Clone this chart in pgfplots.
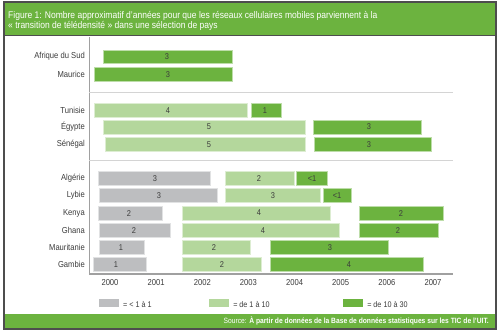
\documentclass[border=0pt]{standalone}
\usepackage{fontspec}
\setmainfont{Liberation Sans}[FakeStretch=0.88]
\usepackage{pgfplots}
\pgfplotsset{compat=1.18}
\definecolor{dg}{HTML}{6CB33F}
\definecolor{lg}{HTML}{B4D79C}
\definecolor{gr}{HTML}{BDBEC0}
\definecolor{band}{HTML}{6CB33F}
\definecolor{framec}{HTML}{4D4D4D}
\definecolor{sepc}{HTML}{D4D4D4}
\definecolor{axisc}{HTML}{A0A0A0}
\definecolor{txt}{HTML}{3C3C3C}
\pgfplotsset{gbar/.style={fill=#1, draw=#1!45!white, line width=0.4pt, forget plot, mark=none}}
\tikzset{lbl/.style={font=\fontsize{7.2}{8}\selectfont, text=txt, inner sep=0pt}}
\begin{document}
\begin{tikzpicture}[x=0.03cm,y=-0.03cm]
\fill[white] (0,0) rectangle (500,333);
\fill[band] (3,2) rectangle (497,35);
\fill[band] (3,314) rectangle (497,328);
\draw[framec, line width=0.05cm] (4,2) rectangle (496,329);
\draw[framec, line width=0.03cm] (4,35) -- (496,35);
\node[anchor=base west, text=white, font=\fontsize{8.25}{9}\selectfont, inner sep=0pt] at (8,18) {Figure 1: Nombre approximatif d'années pour que les réseaux cellulaires mobiles parviennent à la};
\node[anchor=base west, text=white, font=\fontsize{8.25}{9}\selectfont, inner sep=0pt] at (8,28.5) {« transition de télédensité » dans une sélection de pays};
\node[anchor=base east, text=white, font=\fontsize{6.5}{7}\selectfont, inner sep=0pt] at (489,323.5) {Source: \textbf{À partir de données de la Base de données statistiques sur les TIC de l'UIT.}};
\begin{axis}[
  at={(2.67cm,-8.22cm)}, anchor=south west,
  scale only axis, width=10.92cm, height=7.11cm,
  xmin=-0.455, xmax=7.434, ymin=-274, ymax=-36,
  axis x line*=bottom, axis y line*=left,
  x axis line style={axisc, line width=1.1pt, -},
  y axis line style={axisc, line width=0.8pt, -},
  xtick={0,1,2,3,4,5,6,7},
  xticklabels={2000,2001,2002,2003,2004,2005,2006,2007},
  ytick={-55.8,-73.7,-109.5,-126.2,-144,-177.8,-195.3,-212.8,-230.2,-247.2,-264.2},
  yticklabels={Afrique du Sud,Maurice,Tunisie,Égypte,Sénégal,Algérie,Lybie,Kenya,Ghana,Mauritanie,Gambie},
  major tick length=0pt, tick style={draw=none},
  xticklabel style={anchor=north, inner sep=0pt, yshift=-0.165cm, font=\fontsize{7.4}{8}\selectfont, text=txt},
  yticklabel style={anchor=east, inner sep=0pt, xshift=-0.12cm, font=\fontsize{7.4}{8}\selectfont, text=txt},
  /pgf/number format/assume math mode=true,
  clip=false,
  legend columns=3,
  legend image code/.code={\fill[#1] (0cm,-0.06cm) rectangle (0.6cm,0.18cm);},
  legend style={at={(0.0275,-0.105)}, anchor=north west, draw=none, fill=none, inner sep=0pt, column sep=0pt,
    nodes={inner sep=0pt, text=txt, font=\fontsize{7}{8}\selectfont}},
  legend cell align=left,
]
% separators
\draw[sepc, line width=1.1pt] (axis cs:-0.455,-92) -- (axis cs:7.434,-92);
\draw[sepc, line width=1.1pt] (axis cs:-0.455,-160) -- (axis cs:7.434,-160);
% Afrique du Sud
\addplot[gbar=dg] coordinates {(-0.152,-62.8) (2.644,-62.8) (2.644,-48.8) (-0.152,-48.8)} -- cycle;
% Maurice
\addplot[gbar=dg] coordinates {(-0.347,-80.7) (2.644,-80.7) (2.644,-66.7) (-0.347,-66.7)} -- cycle;
% Tunisie
\addplot[gbar=lg] coordinates {(-0.347,-116.5) (2.969,-116.5) (2.969,-102.5) (-0.347,-102.5)} -- cycle;
\addplot[gbar=dg] coordinates {(3.056,-116.5) (3.706,-116.5) (3.706,-102.5) (3.056,-102.5)} -- cycle;
% Egypte
\addplot[gbar=lg] coordinates {(-0.152,-133.2) (4.226,-133.2) (4.226,-119.2) (-0.152,-119.2)} -- cycle;
\addplot[gbar=dg] coordinates {(4.400,-133.2) (6.740,-133.2) (6.740,-119.2) (4.400,-119.2)} -- cycle;
% Senegal
\addplot[gbar=lg] coordinates {(-0.108,-151) (4.226,-151) (4.226,-137) (-0.108,-137)} -- cycle;
\addplot[gbar=dg] coordinates {(4.421,-151) (6.957,-151) (6.957,-137) (4.421,-137)} -- cycle;
% Algerie
\addplot[gbar=gr] coordinates {(-0.260,-184.8) (2.167,-184.8) (2.167,-170.8) (-0.260,-170.8)} -- cycle;
\addplot[gbar=lg] coordinates {(2.492,-184.8) (3.988,-184.8) (3.988,-170.8) (2.492,-170.8)} -- cycle;
\addplot[gbar=dg] coordinates {(4.031,-184.8) (4.703,-184.8) (4.703,-170.8) (4.031,-170.8)} -- cycle;
% Lybie
\addplot[gbar=gr] coordinates {(-0.238,-202.3) (2.319,-202.3) (2.319,-188.3) (-0.238,-188.3)} -- cycle;
\addplot[gbar=lg] coordinates {(2.492,-202.3) (4.552,-202.3) (4.552,-188.3) (2.492,-188.3)} -- cycle;
\addplot[gbar=dg] coordinates {(4.616,-202.3) (5.223,-202.3) (5.223,-188.3) (4.616,-188.3)} -- cycle;
% Kenya
\addplot[gbar=gr] coordinates {(-0.260,-219.8) (1.127,-219.8) (1.127,-205.8) (-0.260,-205.8)} -- cycle;
\addplot[gbar=lg] coordinates {(1.561,-219.8) (4.768,-219.8) (4.768,-205.8) (1.561,-205.8)} -- cycle;
\addplot[gbar=dg] coordinates {(5.397,-219.8) (7.217,-219.8) (7.217,-205.8) (5.397,-205.8)} -- cycle;
% Ghana
\addplot[gbar=gr] coordinates {(-0.238,-237.2) (1.300,-237.2) (1.300,-223.2) (-0.238,-223.2)} -- cycle;
\addplot[gbar=lg] coordinates {(1.561,-237.2) (4.963,-237.2) (4.963,-223.2) (1.561,-223.2)} -- cycle;
\addplot[gbar=dg] coordinates {(5.397,-237.2) (7.109,-237.2) (7.109,-223.2) (5.397,-223.2)} -- cycle;
% Mauritanie
\addplot[gbar=gr] coordinates {(-0.238,-254.2) (0.737,-254.2) (0.737,-240.2) (-0.238,-240.2)} -- cycle;
\addplot[gbar=lg] coordinates {(1.561,-254.2) (3.034,-254.2) (3.034,-240.2) (1.561,-240.2)} -- cycle;
\addplot[gbar=dg] coordinates {(3.468,-254.2) (6.025,-254.2) (6.025,-240.2) (3.468,-240.2)} -- cycle;
% Gambie
\addplot[gbar=gr] coordinates {(-0.368,-271.2) (0.780,-271.2) (0.780,-257.2) (-0.368,-257.2)} -- cycle;
\addplot[gbar=lg] coordinates {(1.561,-271.2) (3.272,-271.2) (3.272,-257.2) (1.561,-257.2)} -- cycle;
\addplot[gbar=dg] coordinates {(3.468,-271.2) (6.784,-271.2) (6.784,-257.2) (3.468,-257.2)} -- cycle;
% labels
\node[lbl] at (axis cs:1.235,-55.8) {3};
\node[lbl] at (axis cs:1.257,-73.7) {3};
\node[lbl] at (axis cs:1.257,-109.5) {4};
\node[lbl] at (axis cs:3.359,-109.5) {1};
\node[lbl] at (axis cs:2.146,-126.2) {5};
\node[lbl] at (axis cs:5.613,-126.2) {3};
\node[lbl] at (axis cs:2.146,-144) {5};
\node[lbl] at (axis cs:5.613,-144) {3};
\node[lbl] at (axis cs:0.975,-177.8) {3};
\node[lbl] at (axis cs:3.229,-177.8) {2};
\node[lbl] at (axis cs:4.378,-177.8) {<1};
\node[lbl] at (axis cs:1.062,-195.3) {3};
\node[lbl] at (axis cs:3.533,-195.3) {3};
\node[lbl] at (axis cs:4.920,-195.3) {<1};
\node[lbl] at (axis cs:0.412,-212.8) {2};
\node[lbl] at (axis cs:3.229,-212.8) {4};
\node[lbl] at (axis cs:6.307,-212.8) {2};
\node[lbl] at (axis cs:0.520,-230.2) {2};
\node[lbl] at (axis cs:3.316,-230.2) {4};
\node[lbl] at (axis cs:6.242,-230.2) {2};
\node[lbl] at (axis cs:0.238,-247.2) {1};
\node[lbl] at (axis cs:2.254,-247.2) {2};
\node[lbl] at (axis cs:4.768,-247.2) {3};
\node[lbl] at (axis cs:0.130,-264.2) {1};
\node[lbl] at (axis cs:2.427,-264.2) {2};
\node[lbl] at (axis cs:5.180,-264.2) {4};
% legend
\addlegendimage{fill=gr, draw=none}
\addlegendentry{\makebox[2.7cm][l]{\hspace{0.12cm}= < 1 à 1}}
\addlegendimage{fill=lg, draw=none}
\addlegendentry{\makebox[3.42cm][l]{\hspace{0.12cm}= de 1 à 10}}
\addlegendimage{fill=dg, draw=none}
\addlegendentry{\hspace{0.12cm}= de 10 à 30}
\end{axis}
\end{tikzpicture}
\end{document}
